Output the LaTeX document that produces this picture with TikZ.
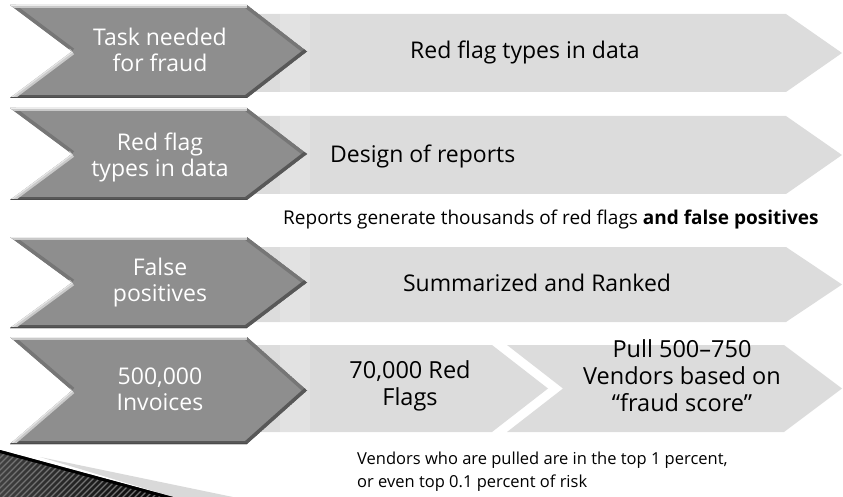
\documentclass[tikz,border=0pt]{standalone}
\usepackage{fontspec}
\setmainfont{Open Sans}
\usetikzlibrary{calc}

\definecolor{chevdark}{HTML}{8E8E8E}
\definecolor{chevlight}{HTML}{DCDCDC}
\definecolor{chevpale}{HTML}{E2E2E2}
\definecolor{bevhi}{HTML}{C9C9C9}
\definecolor{bevmid}{HTML}{767676}
\definecolor{bevlo}{HTML}{585858}

\tikzset{
  lightchev/.style={fill=chevlight, draw=none},
  darklabel/.style={align=center, text=white, font=\fontsize{23}{26}\selectfont, inner sep=0pt},
  lightlabel/.style={align=center, text=black, font=\fontsize{23}{27}\selectfont, inner sep=0pt},
  steplabel/.style={align=center, text=black, font=\fontsize{23.5}{27}\selectfont, inner sep=0pt},
  notelabel/.style={align=left, text=black, font=\fontsize{19}{23}\selectfont, inner sep=0pt},
  smallnote/.style={align=left, text=black, font=\fontsize{16.5}{23}\selectfont, inner sep=0pt},
}

% bevelled dark chevron: #1 top y, #2 bottom y
\newcommand\bevelchevron[2]{%
  \pgfmathsetmacro\cmid{(#1+#2)/2}%
  \coordinate (A) at (10,#1);
  \coordinate (B) at (247,#1);
  \coordinate (C) at (307,\cmid);
  \coordinate (D) at (247,#2);
  \coordinate (E) at (10,#2);
  \coordinate (F) at (72,\cmid);
  \begin{scope}
    \clip (A)--(B)--(C)--(D)--(E)--(F)--cycle;
    \fill[chevdark] (A)--(B)--(C)--(D)--(E)--(F)--cycle;
    \draw[bevmid, line width=7] (A)--(F);
    \draw[bevmid, line width=7] (B)--(C);
    \draw[bevlo, line width=7] (C)--(D);
    \draw[bevlo, line width=6] (D)--(E);
    \draw[bevhi, line width=7] (F)--(E);
    \draw[bevhi, line width=6] (A)--(B);
    \draw[white!85!gray, line width=2] (A)--(B);
    \draw[white!80!gray, line width=2.5] (F)--(E);
    \draw[black!70, line width=2] (D)--(E);
  \end{scope}
}

\begin{document}
\begin{tikzpicture}[x=1pt, y=-1pt]
\useasboundingbox (0,0) rectangle (843,497);

% light process bars
\fill[lightchev] (240,14) -- (786,14) -- (842,53) -- (786,92) -- (240,92) -- cycle;
\fill[lightchev] (240,116) -- (786,116) -- (842,155) -- (786,194) -- (240,194) -- cycle;
\fill[lightchev] (240,247) -- (786,247) -- (842,284.5) -- (786,322) -- (240,322) -- cycle;
\fill[lightchev] (240,345) -- (492,345) -- (548,388.5) -- (492,432) -- (240,432) -- cycle;
\fill[lightchev] (507,345) -- (784,345) -- (842,388.5) -- (784,432) -- (507,432) -- (563,388.5) -- cycle;
% paler strip where each bar emerges from its chevron
\foreach \t/\b in {14/92, 116/194, 247/322, 345/432}
  \fill[chevpale] (280,\t) rectangle (310,\b);

% dark bevelled chevrons
\bevelchevron{5}{98}
\bevelchevron{108}{200}
\bevelchevron{237}{328}
\bevelchevron{337}{444}

% corner ornament
\fill[black!15] (40,457) -- (233,497) -- (173,497) -- cycle;
\shade[left color=black!75, right color=black] (0,450) -- (173,497) -- (0,497) -- cycle;
\begin{scope}
  \clip (0,450) -- (173,497) -- (0,497) -- cycle;
  \foreach \k in {-60,-54,...,200} {
    \draw[black!55, line width=1.2] (\k,500) -- (\k+60,440);
  }
  \draw[black, line width=4] (0,451) -- (173,498);
\end{scope}

% texts on the dark chevrons
\node[darklabel] (t1) at (160,50) {Task needed\\for fraud};
\node[darklabel] (t2) at (160,157) {Red flag\\types in data};
\node[darklabel] (t3) at (160,283) {False\\positives};
\node[darklabel] (t4) at (160,389) {500,000\\Invoices};

% texts on the light bars
\node[lightlabel] (r1) at (525,52) {Red flag types in data};
\node[lightlabel, anchor=west] (r2) at (330,156) {Design of reports};
\node[lightlabel] (r3) at (537,283) {Summarized and Ranked};
\node[steplabel] (r4a) at (410,386) {70,000 Red\\Flags};
\node[steplabel] (r4b) at (682,376) {Pull 500–750\\Vendors based on\\“fraud score”};

% notes
\node[notelabel, anchor=west] (n1) at (283,220) {Reports generate thousands of red flags \textbf{and false positives}};
\node[smallnote, anchor=north west] (n2) at (357,452) {Vendors who are pulled are in the top 1 percent,\\or even top 0.1 percent of risk};
\end{tikzpicture}
\end{document}
